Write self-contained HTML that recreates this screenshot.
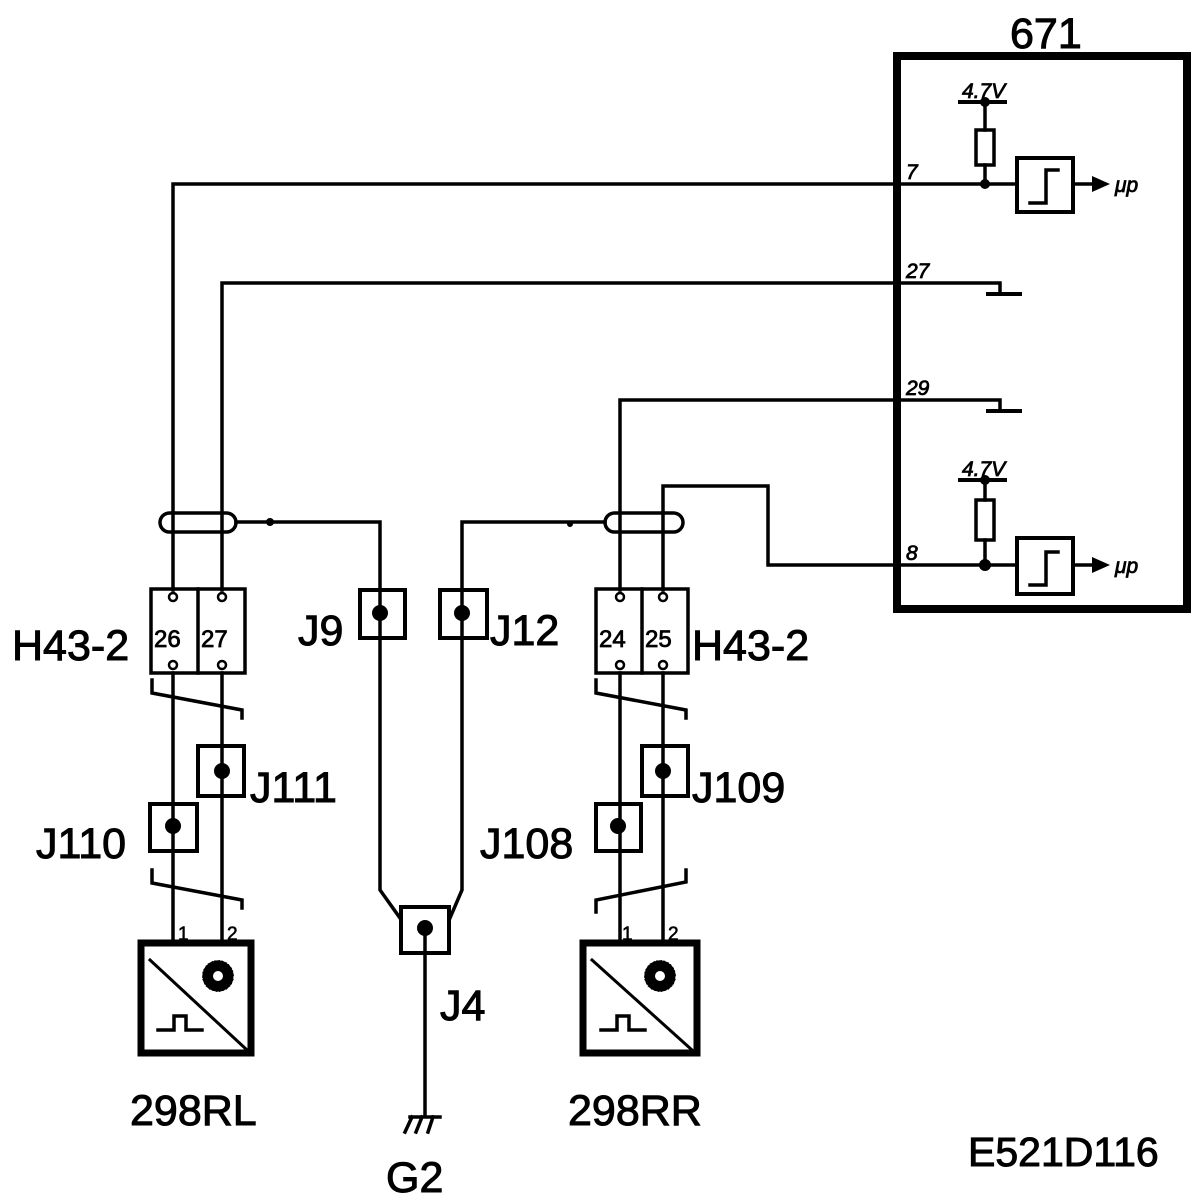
<!DOCTYPE html>
<html><head><meta charset="utf-8"><style>
html,body{margin:0;padding:0;background:#fff;}
svg{display:block;}
text{font-family:"Liberation Sans",sans-serif;fill:#000;}
</style></head><body>
<svg width="1200" height="1196" viewBox="0 0 1200 1196" xmlns="http://www.w3.org/2000/svg">
<g fill="none" stroke="#000" stroke-width="3.5" stroke-linecap="square">
<rect x="897" y="56" width="290" height="553" stroke-width="8"/>
<polyline points="173,590 173,184 1017,184"/>
<polyline points="222,590 222,283 1000,283 1000,293"/>
<line x1="988" y1="294" x2="1020" y2="294" stroke-width="4"/>
<polyline points="620,590 620,400 1000,400 1000,410"/>
<line x1="988" y1="411" x2="1020" y2="411" stroke-width="4"/>
<polyline points="663,590 663,486 768,486 768,565 1017,565"/>
<line x1="960" y1="102" x2="1005" y2="102" stroke-width="4"/>
<line x1="985" y1="102" x2="985" y2="130"/>
<rect x="976" y="130" width="18" height="35"/>
<line x1="985" y1="165" x2="985" y2="184"/>
<rect x="1017" y="158" width="56" height="54" stroke-width="4"/>
<polyline points="1030,203 1046,203 1046,170 1058,170"/>
<line x1="1073" y1="184" x2="1095" y2="184"/>
<line x1="960" y1="480" x2="1005" y2="480" stroke-width="4"/>
<line x1="985" y1="480" x2="985" y2="500"/>
<rect x="976" y="500" width="18" height="40"/>
<line x1="985" y1="540" x2="985" y2="565"/>
<rect x="1017" y="538" width="56" height="56" stroke-width="4"/>
<polyline points="1030,585 1046,585 1046,552 1058,552"/>
<line x1="1073" y1="565" x2="1095" y2="565"/>
<rect x="160" y="513" width="76" height="19" rx="9.5"/>
<rect x="605" y="513" width="78" height="19" rx="9.5"/>
<polyline points="236,522 380,522 380,890 400,918"/>
<polyline points="605,522 462,522 462,890 450,918"/>
<rect x="360" y="590" width="45" height="48" stroke-width="4"/>
<rect x="440" y="590" width="47" height="48" stroke-width="4"/>
<rect x="401" y="907" width="48" height="46" stroke-width="4"/>
<line x1="425" y1="928" x2="425" y2="1115"/>
<line x1="410" y1="1117" x2="440" y2="1117"/>
<line x1="412" y1="1117" x2="405" y2="1132"/>
<line x1="422" y1="1117" x2="416" y2="1132"/>
<line x1="433" y1="1117" x2="428" y2="1132"/>
<rect x="151" y="589" width="94" height="84" stroke-width="3.5"/>
<line x1="198" y1="589" x2="198" y2="673"/>
<line x1="173" y1="673" x2="173" y2="942"/>
<line x1="222" y1="673" x2="222" y2="942"/>
<polyline points="152,680 152,693 242,710 242,718"/>
<polyline points="152,870 152,883 242,900 242,908"/>
<rect x="198" y="746" width="46" height="50" stroke-width="4"/>
<rect x="150" y="804" width="47" height="47" stroke-width="4"/>
<rect x="141" y="943" width="110" height="110" stroke-width="7"/>
<line x1="150" y1="960" x2="247" y2="1050" stroke-width="3"/>
<polyline points="158,1030 174,1030 174,1016 186,1016 186,1030 202,1030" stroke-width="3.5"/>
<rect x="596" y="589" width="92" height="84" stroke-width="3.5"/>
<line x1="642" y1="589" x2="642" y2="673"/>
<line x1="620" y1="673" x2="620" y2="942"/>
<line x1="663" y1="673" x2="663" y2="942"/>
<polyline points="596,680 596,693 686,710 686,718"/>
<polyline points="596,912 596,900 686,882 686,870"/>
<rect x="642" y="746" width="46" height="50" stroke-width="4"/>
<rect x="596" y="804" width="45" height="47" stroke-width="4"/>
<rect x="583" y="943" width="114" height="110" stroke-width="7"/>
<line x1="592" y1="960" x2="692" y2="1050" stroke-width="3"/>
<polyline points="601,1030 617,1030 617,1016 629,1016 629,1030 645,1030" stroke-width="3.5"/>
<!-- gears -->
<circle cx="218" cy="976" r="11" stroke-width="9" stroke-dasharray="3 2.2"/>
<circle cx="218" cy="976" r="8" stroke-width="6"/>
<circle cx="660" cy="976" r="11" stroke-width="9" stroke-dasharray="3 2.2"/>
<circle cx="660" cy="976" r="8" stroke-width="6"/>
</g>
<g fill="#000">
<polygon points="1092,176 1110,184 1092,192"/>
<polygon points="1092,557 1110,565 1092,573"/>
<circle cx="985" cy="184" r="5"/><circle cx="985" cy="565" r="6"/>
<circle cx="985" cy="102" r="5"/><circle cx="985" cy="480" r="5"/>
<circle cx="270" cy="522" r="4"/><circle cx="570" cy="524" r="3"/>
<circle cx="380" cy="613" r="8"/><circle cx="462" cy="613" r="8"/>
<circle cx="425" cy="928" r="8"/>
<circle cx="222" cy="771" r="8"/><circle cx="173" cy="826" r="8"/>
<circle cx="663" cy="771" r="8"/><circle cx="618" cy="826" r="8"/>
</g>
<g fill="#fff" stroke="#000" stroke-width="2.5">
<circle cx="173" cy="597" r="4"/><circle cx="222" cy="597" r="4"/>
<circle cx="173" cy="665" r="4"/><circle cx="222" cy="665" r="4"/>
<circle cx="620" cy="597" r="4"/><circle cx="663" cy="597" r="4"/>
<circle cx="620" cy="665" r="4"/><circle cx="663" cy="665" r="4"/>
</g>
<g font-size="43" stroke="#000" stroke-width="1">
<text x="1010" y="48">671</text>
<text x="12" y="660">H43-2</text>
<text x="692" y="660">H43-2</text>
<text x="298" y="645">J9</text>
<text x="490" y="645">J12</text>
<text x="250" y="802">J111</text>
<text x="36" y="858">J110</text>
<text x="480" y="858">J108</text>
<text x="692" y="802">J109</text>
<text x="440" y="1020">J4</text>
<text x="130" y="1125">298RL</text>
<text x="568" y="1125">298RR</text>
<text x="386" y="1192">G2</text>
<text x="968" y="1166" font-size="41">E521D116</text>
</g>
<g font-size="21" font-style="italic" stroke="#000" stroke-width="0.8">
<text x="962" y="98">4.7V</text>
<text x="962" y="476">4.7V</text>
<text x="906" y="179">7</text>
<text x="906" y="278">27</text>
<text x="906" y="395">29</text>
<text x="906" y="560">8</text>
<text x="1115" y="192">μp</text>
<text x="1115" y="573">μp</text>
</g>
<g font-size="24" stroke="#000" stroke-width="0.8">
<text x="154" y="647">26</text><text x="201" y="647">27</text>
<text x="599" y="647">24</text><text x="645" y="647">25</text>
</g>
<g font-size="19" stroke="#000" stroke-width="0.6">
<text x="178" y="940">1</text><text x="227" y="940">2</text>
<text x="622" y="940">1</text><text x="668" y="940">2</text>
</g>
</svg>
</body></html>
